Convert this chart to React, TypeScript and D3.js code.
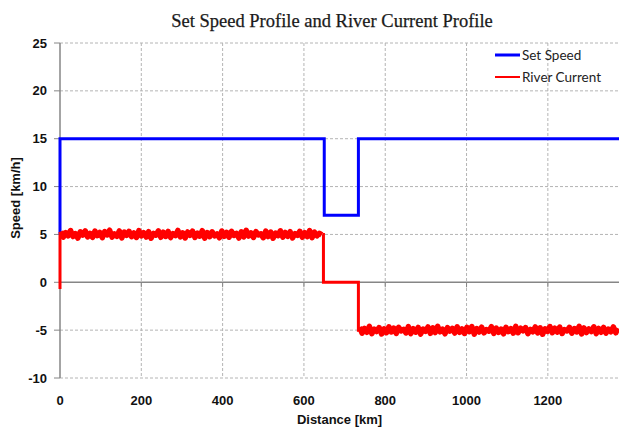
import React from "react";
import * as d3 from "d3";

const W = 619;
const H = 429;

const xTicks = [0, 200, 400, 600, 800, 1000, 1200];
const yTicks = [-10, -5, 0, 5, 10, 15, 20, 25];

// Set speed profile [km, km/h]
const setSpeedKm = [0, 0, 650, 650, 734, 734, 1375];
const setSpeedVal = [5, 15, 15, 7, 7, 15, 15];

// River current: first segment samples (km 2..644, every 6 km)
const seg1Start = 2;
const seg1Step = 6;
const seg1Values = [
  5.32, 4.71, 5.18, 4.86, 5.41, 4.78, 5.09, 4.62, 5.27, 4.93, 5.38, 4.74, 5.12, 4.69, 5.35, 4.88, 5.21, 4.66, 5.30, 4.95,
  5.44, 4.72, 5.06, 4.81, 5.36, 4.64, 5.24, 4.90, 5.33, 4.77, 5.15, 4.68, 5.40, 4.84, 5.19, 4.73, 5.29, 4.61, 5.11, 4.92,
  5.37, 4.70, 5.23, 4.79, 5.31, 4.67, 5.08, 4.87, 5.42, 4.75, 5.17, 4.63, 5.26, 4.91, 5.34, 4.69, 5.13, 4.82, 5.39, 4.60,
  5.20, 4.76, 5.28, 4.85, 5.05, 4.65, 5.36, 4.80, 5.22, 4.71, 5.32, 4.89, 5.10, 4.62, 5.27, 4.74, 5.43, 4.83, 5.16, 4.68,
  5.30, 4.94, 5.07, 4.66, 5.35, 4.78, 5.25, 4.60, 5.14, 4.87, 5.38, 4.72, 5.21, 4.80, 5.29, 4.64, 5.09, 4.90, 5.33, 4.70,
  5.18, 4.77, 5.40, 4.67, 5.24, 4.85, 5.12, 4.95,
];
// River current: middle (still water) segment
const midKm = [646, 648, 648, 734, 734, 737];
const midVal = [5.0, 5.0, 0, 0, -5.0, -5.0];
// River current: last segment samples (km 737..1373, every 6 km)
const seg3Start = 737;
const seg3Step = 6;
const seg3Values = [
  -4.68, -5.31, -4.82, -5.22, -4.61, -5.37, -4.90, -5.14, -4.73, -5.40, -4.86, -5.27, -4.65, -5.19, -4.79, -5.34, -4.70, -5.08, -4.93, -5.29,
  -4.63, -5.36, -4.84, -5.21, -4.72, -5.42, -4.88, -5.12, -4.67, -5.33, -4.76, -5.25, -4.60, -5.17, -4.91, -5.38, -4.74, -5.10, -4.81, -5.30,
  -4.66, -5.23, -4.87, -5.35, -4.71, -5.15, -4.62, -5.41, -4.83, -5.20, -4.69, -5.28, -4.95, -5.11, -4.64, -5.34, -4.78, -5.24, -4.89, -5.39,
  -4.70, -5.16, -4.85, -5.32, -4.61, -5.26, -4.80, -5.07, -4.73, -5.37, -4.92, -5.18, -4.67, -5.30, -4.75, -5.43, -4.86, -5.13, -4.62, -5.27,
  -4.79, -5.21, -4.68, -5.35, -4.94, -5.09, -4.71, -5.32, -4.83, -5.19, -4.60, -5.40, -4.77, -5.25, -4.88, -5.14, -4.65, -5.36, -4.82, -5.22,
  -4.72, -5.31, -4.90, -5.17, -4.66, -5.28, -4.81,
];
const riverStartKm = [0, 0];
const riverStartVal = [-0.7, 5.0];

const legendItems = [
  { label: "Set Speed", color: "#0000FF" },
  { label: "River Current", color: "#FF0000" },
];

export default function App() {
  const left = 60;
  const right = 619;
  const top = 43;
  const bottom = 378;

  const x = d3.scaleLinear().domain([0, 1375]).range([left, right]);
  const y = d3.scaleLinear().domain([-10, 25]).range([bottom, top]);

  const line = d3
    .line<[number, number]>()
    .x((d) => x(d[0]))
    .y((d) => y(d[1]));

  const setPts: [number, number][] = setSpeedKm.map((k, i) => [k, setSpeedVal[i]]);
  const startPts: [number, number][] = riverStartKm.map((k, i) => [k, riverStartVal[i]]);
  const seg1Pts: [number, number][] = seg1Values.map((v, i) => [seg1Start + i * seg1Step, v]);
  const midPts: [number, number][] = midKm.map((k, i) => [k, midVal[i]]);
  const seg3Pts: [number, number][] = seg3Values.map((v, i) => [seg3Start + i * seg3Step, v]);

  const tickFont = "'Liberation Sans', Arial, sans-serif";
  const gridColor = "#b4b4b4";
  const axisColor = "#868686";

  return (
    <div style={{ position: "absolute", left: 0, top: 0 }}>
      <svg width={W} height={H} style={{ display: "block", background: "#fff" }}>
        <defs>
          <clipPath id="plotClip">
            <rect x={left - 3} y={top - 5} width={right - left + 10} height={bottom - top + 10} />
          </clipPath>
        </defs>
        {/* title */}
        <text
          x={332}
          y={27}
          textAnchor="middle"
          fontFamily="'Liberation Serif', 'DejaVu Serif', serif"
          fontSize={18.5}
          fill="#1a1a1a"
          stroke="#1a1a1a"
          strokeWidth={0.25}
        >
          Set Speed Profile and River Current Profile
        </text>

        {/* horizontal grid */}
        {yTicks
          .filter((t) => t !== 0)
          .map((t) => (
            <line
              key={"hg" + t}
              x1={left}
              x2={right}
              y1={y(t)}
              y2={y(t)}
              stroke={gridColor}
              strokeWidth={1}
              strokeDasharray="3,2"
            />
          ))}
        {/* vertical grid */}
        {xTicks
          .filter((t) => t !== 0)
          .map((t) => (
            <line
              key={"vg" + t}
              x1={x(t)}
              x2={x(t)}
              y1={top}
              y2={bottom}
              stroke={gridColor}
              strokeWidth={1}
              strokeDasharray="3,2"
            />
          ))}

        {/* zero line (x axis) */}
        <line x1={left} x2={right} y1={y(0)} y2={y(0)} stroke={axisColor} strokeWidth={1.5} />
        {xTicks.map((t) => (
          <line key={"xt" + t} x1={x(t)} x2={x(t)} y1={y(0)} y2={y(0) + 5} stroke={axisColor} strokeWidth={1} />
        ))}
        {/* y axis */}
        <line x1={left} x2={left} y1={top} y2={bottom} stroke={axisColor} strokeWidth={1.5} />
        {yTicks.map((t) => (
          <line key={"yt" + t} x1={left - 6} x2={left} y1={y(t)} y2={y(t)} stroke={axisColor} strokeWidth={1} />
        ))}

        {/* y tick labels */}
        {yTicks.map((t) => (
          <text
            key={"yl" + t}
            x={47}
            y={y(t) + 4.5}
            textAnchor="end"
            fontFamily={tickFont}
            fontWeight="bold"
            fontSize={13}
            fill="#111"
          >
            {t}
          </text>
        ))}
        {/* x tick labels */}
        {xTicks.map((t) => (
          <text
            key={"xl" + t}
            x={x(t)}
            y={405}
            textAnchor="middle"
            fontFamily={tickFont}
            fontWeight="bold"
            fontSize={13}
            fill="#111"
          >
            {t}
          </text>
        ))}

        {/* axis titles */}
        <text
          x={339.5}
          y={424}
          textAnchor="middle"
          fontFamily={tickFont}
          fontWeight="bold"
          fontSize={13}
          fill="#111"
        >
          Distance [km]
        </text>
        <text
          transform={`translate(20,198) rotate(-90)`}
          textAnchor="middle"
          fontFamily={tickFont}
          fontWeight="bold"
          fontSize={13}
          fill="#111"
        >
          Speed [km/h]
        </text>

        {/* series */}
        <g clipPath="url(#plotClip)">
          <path d={line(setPts) || ""} fill="none" stroke="#0000FF" strokeWidth={3} strokeLinejoin="miter" />
          <path d={line(startPts) || ""} fill="none" stroke="#FF0000" strokeWidth={3} />
          <path d={line(midPts) || ""} fill="none" stroke="#FF0000" strokeWidth={3} strokeLinejoin="miter" />
          <path d={line(seg1Pts) || ""} fill="none" stroke="#FF0000" strokeWidth={5.5} strokeLinejoin="round" />
          <path d={line(seg3Pts) || ""} fill="none" stroke="#FF0000" strokeWidth={5.5} strokeLinejoin="round" />
        </g>

        {/* legend */}
        {legendItems.map((it, i) => (
          <g key={it.label}>
            <line x1={495} x2={520} y1={55 + i * 22} y2={55 + i * 22} stroke={it.color} strokeWidth={i === 0 ? 3 : 2} />
            <text
              x={522}
              y={59.5 + i * 22}
              fontFamily="Lato, 'Open Sans', sans-serif"
              fontSize={13.5}
              fill="#222"
            >
              {it.label}
            </text>
          </g>
        ))}
      </svg>
    </div>
  );
}
